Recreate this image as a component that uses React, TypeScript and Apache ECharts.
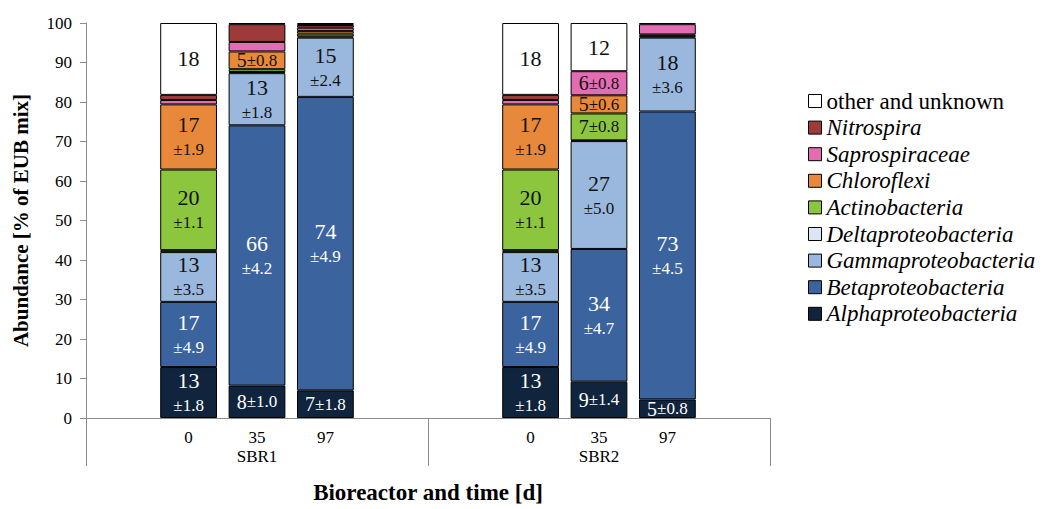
import React, { useEffect, useRef } from "react";
import * as echarts from "echarts";

const categories = ["", "0", "35", "97", "", "", "0", "35", "97", ""];
const groups = ["SBR1", "SBR2"];
const yTicks = { min: 0, max: 100, interval: 10 };

// values per bar: SBR1 0, SBR1 35, SBR1 97, SBR2 0, SBR2 35, SBR2 97
const alpha = [12.9, 8.2, 7.0, 12.9, 9.2, 4.7];
const beta = [16.5, 65.9, 74.3, 16.5, 33.6, 72.9];
const gamma = [12.6, 13.2, 15.0, 12.6, 27.3, 18.7];
const delta = [0.5, 0.3, 0.3, 0.5, 0.2, 0.3];
const actino = [20.4, 0.7, 0.7, 20.4, 6.8, 0.2];
const chloro = [16.5, 4.5, 0.7, 16.5, 4.6, 0.3];
const sapro = [1.1, 2.4, 0.8, 1.1, 6.1, 2.6];
const nitro = [1.3, 4.5, 0.7, 1.3, 0, 0];
const other = [18.2, 0.3, 0.5, 18.2, 12.2, 0.3];

const alphaLabels = ["13\n±1.8", "8±1.0", "7±1.8", "13\n±1.8", "9±1.4", "5±0.8"];
const betaLabels = ["17\n±4.9", "66\n±4.2", "74\n±4.9", "17\n±4.9", "34\n±4.7", "73\n±4.5"];
const gammaLabels = ["13\n±3.5", "13\n±1.8", "15\n±2.4", "13\n±3.5", "27\n±5.0", "18\n±3.6"];
const deltaLabels = ["", "", "", "", "", ""];
const actinoLabels = ["20\n±1.1", "", "", "20\n±1.1", "7±0.8", ""];
const chloroLabels = ["17\n±1.9", "5±0.8", "", "17\n±1.9", "5±0.6", ""];
const saproLabels = ["", "", "", "", "6±0.8", ""];
const nitroLabels = ["", "", "", "", "", ""];
const otherLabels = ["18", "", "", "18", "12", ""];

const FONT = "Liberation Serif, DejaVu Serif, serif";

const seriesDefs = [
  { name: "Alphaproteobacteria", data: alpha, labels: alphaLabels, color: "#11243d", text: "#ffffff" },
  { name: "Betaproteobacteria", data: beta, labels: betaLabels, color: "#3b649e", text: "#ffffff" },
  { name: "Gammaproteobacteria", data: gamma, labels: gammaLabels, color: "#9ab8de", text: "#111111" },
  { name: "Deltaproteobacteria", data: delta, labels: deltaLabels, color: "#dce6f2", text: "#111111" },
  { name: "Actinobacteria", data: actino, labels: actinoLabels, color: "#8cc63e", text: "#111111" },
  { name: "Chloroflexi", data: chloro, labels: chloroLabels, color: "#e8883a", text: "#111111" },
  { name: "Saprospiraceae", data: sapro, labels: saproLabels, color: "#e36cb3", text: "#111111" },
  { name: "Nitrospira", data: nitro, labels: nitroLabels, color: "#9e3a3a", text: "#111111" },
  { name: "other and unknown", data: other, labels: otherLabels, color: "#ffffff", text: "#111111" },
];

function richText(t: string): string {
  if (t.includes("\n")) {
    const [a, b] = t.split("\n");
    return `{a|${a}}\n{b|${b}}`;
  }
  if (t.includes("±")) {
    const i = t.indexOf("±");
    return `{c|${t.slice(0, i)}}{d|${t.slice(i)}}`;
  }
  return `{a|${t}}`;
}

function buildData(values: number[], labels: string[], textColor: string) {
  const out: any[] = [];
  let k = 0;
  categories.forEach((c) => {
    if (c === "") {
      out.push("-");
      return;
    }
    const v = values[k];
    const t = labels[k];
    k++;
    if (!v) {
      out.push("-");
      return;
    }
    out.push({
      value: v,
      label: t
        ? {
            show: true,
            position: "inside",
            formatter: richText(t),
            rich: {
              a: { fontSize: 22, lineHeight: 26, color: textColor, fontFamily: FONT },
              b: { fontSize: 17, lineHeight: 24, color: textColor, fontFamily: FONT },
              c: { fontSize: 20, lineHeight: 16, color: textColor, fontFamily: FONT },
              d: { fontSize: 17, lineHeight: 16, color: textColor, fontFamily: FONT },
            },
          }
        : { show: false },
    });
  });
  return out;
}

export default function App() {
  const ref = useRef<HTMLDivElement>(null);
  useEffect(() => {
    if (!ref.current) return;
    const chart = echarts.init(ref.current, undefined, { renderer: "svg" });
    const series = seriesDefs.map((s) => ({
      name: s.name,
      type: "bar",
      stack: "total",
      xAxisIndex: 0,
      barWidth: "83%",
      itemStyle: { color: s.color, borderColor: "#000", borderWidth: 1 },
      data: buildData(s.data, s.labels, s.text),
    }));
    const legendData = seriesDefs
      .slice()
      .reverse()
      .map((s) => ({
        name: s.name,
        textStyle: { fontStyle: s.name === "other and unknown" ? "normal" : "italic", fontFamily: FONT },
      }));
    chart.setOption({
      animation: false,
      backgroundColor: "#ffffff",
      textStyle: { fontFamily: FONT },
      grid: { left: 86, right: 273, top: 23, bottom: 84, containLabel: false },
      legend: {
        orient: "vertical",
        left: 803,
        top: 84,
        itemWidth: 13,
        itemHeight: 13,
        itemGap: 2.6,
        icon: "rect",
        itemStyle: { borderColor: "#000", borderWidth: 1 },
        textStyle: { fontSize: 23, lineHeight: 24, color: "#000", fontFamily: FONT },
        data: legendData,
      },
      xAxis: [
        {
          type: "category",
          data: categories,
          position: "bottom",
          axisLine: { show: true, lineStyle: { color: "#8c8c8c", width: 1 } },
          axisTick: { show: false },
          axisLabel: { interval: 0, margin: 11, fontSize: 17, color: "#000", fontFamily: FONT },
          name: "Bioreactor and time [d]",
          nameLocation: "middle",
          nameGap: 63,
          nameTextStyle: { fontSize: 23, fontWeight: "bold", color: "#000", fontFamily: FONT },
        },
        {
          type: "category",
          data: groups,
          position: "bottom",
          axisLine: { show: false },
          axisTick: { show: true, length: 48, lineStyle: { color: "#8c8c8c", width: 1 } },
          axisLabel: { interval: 0, margin: 30, fontSize: 17, color: "#000", fontFamily: FONT },
          splitLine: { show: false },
        },
      ],
      yAxis: {
        type: "value",
        min: yTicks.min,
        max: yTicks.max,
        interval: yTicks.interval,
        axisLine: { show: true, lineStyle: { color: "#8c8c8c", width: 1 } },
        axisTick: { show: true, length: 6, lineStyle: { color: "#8c8c8c" } },
        axisLabel: { margin: 14, fontSize: 17, color: "#000", fontFamily: FONT },
        splitLine: { show: false },
        name: "Abundance [% of EUB mix]",
        nameLocation: "middle",
        nameGap: 55,
        nameRotate: 90,
        nameTextStyle: { fontSize: 21, fontWeight: "bold", color: "#000", fontFamily: FONT },
      },
      series,
    });
    return () => chart.dispose();
  }, []);
  return (
    <div
      ref={ref}
      style={{ position: "fixed", left: 0, top: 0, width: 1043, height: 509, background: "#fff" }}
    />
  );
}
